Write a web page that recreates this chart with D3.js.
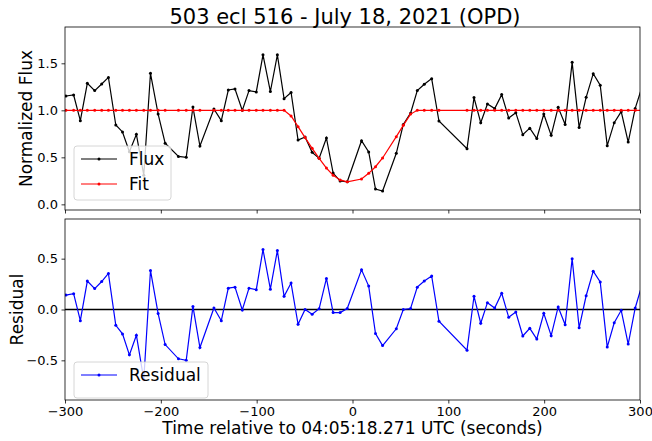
<!DOCTYPE html>
<html>
<head>
<meta charset="utf-8">
<script src="https://cdn.jsdelivr.net/npm/d3@7"></script>
<style>
  body { margin: 0; background: #fff; }
  text { font-family: "DejaVu Sans", sans-serif; }
</style>
</head>
<body>
<div id="chart"></div>
<script>

// time (s), flux, fit and residual
let time = [-299, -291, -284, -276.7, -269, -261.7, -254.7, -247, -240, -232.8,
  -225.5, -217.8, -210.8, -202.8, -195.5, -181.6, -173.5, -166.5, -159.2, -144.6,
  -136.9, -129.6, -122.6, -115, -108, -100.4, -93.4, -85.7, -78.4, -71.4,
  -64.1, -56.8, -49.5, -42.1, -34.8, -27.2, -20.2, -12.9, -5.5, 9.4,
  16.9, 24, 31.4, 45.7, 53, 60.6, 67.6, 74.9, 82.6, 90.2,
  119.5, 126.8, 133.8, 140.8, 148.4, 155.7, 163, 170.4, 177.7, 185,
  192.3, 199.6, 207.3, 214.6, 221.9, 229.2, 236.5, 243.8, 251.2, 258.5,
  265.8, 273.1, 280.4, 287.7, 295, 302]

let flux = [1.152, 1.163, 0.89, 1.287, 1.21, 1.28, 1.35, 0.844, 0.77, 0.56,
  0.745, 0.31, 1.394, 0.96, 0.65, 0.51, 0.50, 1.035, 0.62, 1.014,
  0.89, 1.216, 1.227, 1.0, 1.21, 1.195, 1.59, 1.2, 1.59, 1.124,
  1.19, 0.684, 0.716, 0.553, 0.49, 0.706, 0.333, 0.248, 0.24, 0.677,
  0.557, 0.163, 0.142, 0.543, 0.85, 0.97, 1.21, 1.277, 1.337, 0.886,
  0.592, 1.135, 0.869, 1.067, 1.018, 1.167, 0.918, 0.975, 0.74, 0.81,
  0.70, 0.96, 0.734, 1.032, 0.85, 1.51, 0.816, 1.138, 1.39, 1.266,
  0.624, 0.869, 0.986, 0.663, 1.02, 1.245]

let fit = [1, 1, 1, 1, 1, 1, 1, 1, 1, 1,
  1, 1, 1, 1, 1, 1, 1, 1, 1, 1,
  1, 1, 1, 1, 1, 1, 1, 1, 1, 1,
  0.94, 0.826, 0.71, 0.596, 0.49, 0.386, 0.31, 0.26, 0.24, 0.27,
  0.33, 0.40, 0.493, 0.72, 0.84, 0.96, 1, 1, 1, 1,
  1, 1, 1, 1, 1, 1, 1, 1, 1, 1,
  1, 1, 1, 1, 1, 1, 1, 1, 1, 1,
  1, 1, 1, 1, 1, 1]

let residual = [0.142, 0.156, -0.11, 0.28, 0.206, 0.275, 0.355, -0.155, -0.24, -0.446,
  -0.253, -0.69, 0.384, -0.04, -0.345, -0.485, -0.5, 0.03, -0.374, 0.015,
  -0.11, 0.21, 0.22, -0.005, 0.21, 0.195, 0.59, 0.2, 0.58, 0.13,
  0.26, -0.145, 0.0, -0.047, 0.008, 0.306, -0.03, -0.03, 0.01, 0.39,
  0.23, -0.237, -0.355, -0.19, 0.0, 0.01, 0.22, 0.28, 0.33, -0.115,
  -0.40, 0.13, -0.135, 0.067, 0.015, 0.16, -0.077, -0.025, -0.26, -0.185,
  -0.29, -0.037, -0.257, 0.025, -0.15, 0.50, -0.18, 0.135, 0.377, 0.27,
  -0.37, -0.13, -0.008, -0.34, 0.015, 0.24]

let xTicks = [-300, -200, -100, 0, 100, 200, 300]
let fluxTicks = [0.0, 0.5, 1.0, 1.5]
let residTicks = [-0.5, 0.0, 0.5]

let W = 652, H = 441
let left = 65, right = 640
let top1 = 27, bot1 = 210
let top2 = 219, bot2 = 400

let svg = d3.select("#chart")
  .append("svg")
  .attr("width", W)
  .attr("height", H)

let x = d3.scaleLinear()
  .domain([-300, 300])
  .range([left, right])

let y1 = d3.scaleLinear()
  .domain([-0.06, 1.886])
  .range([bot1, top1])

let y2 = d3.scaleLinear()
  .domain([-0.89, 0.89])
  .range([bot2, top2])

let fmtTick = d => d3.format(".1f")(d).replace("-", "\u2212")
let fmtX = d => String(d).replace("-", "\u2212")

// clip regions
let defs = svg.append("defs")
defs.append("clipPath").attr("id", "clip1")
  .append("rect").attr("x", left).attr("y", top1)
  .attr("width", right - left).attr("height", bot1 - top1)
defs.append("clipPath").attr("id", "clip2")
  .append("rect").attr("x", left).attr("y", top2)
  .attr("width", right - left).attr("height", bot2 - top2)

function styleAxis(g) {
  g.select(".domain").remove()
  g.selectAll(".tick line").attr("stroke", "#000").attr("stroke-width", 0.8)
  g.selectAll(".tick text").attr("font-size", 13).attr("fill", "#000")
    .attr("font-family", "DejaVu Sans")
}

// ---- top panel ----
svg.append("g")
  .attr("transform", "translate(0," + bot1 + ")")
  .call(d3.axisBottom(x).tickValues(xTicks).tickSize(3.5).tickFormat(""))
  .call(styleAxis)

svg.append("g")
  .attr("transform", "translate(" + left + ",0)")
  .call(d3.axisLeft(y1).tickValues(fluxTicks).tickSize(3.5).tickPadding(3.5).tickFormat(fmtTick))
  .call(styleAxis)

let p1 = svg.append("g").attr("clip-path", "url(#clip1)")

let fluxData = time.map((t, i) => ({ t: t, v: flux[i] }))
let fitData = time.map((t, i) => ({ t: t, v: fit[i] }))
let residData = time.map((t, i) => ({ t: t, v: residual[i] }))

p1.append("path")
  .datum(fluxData)
  .attr("d", d3.line().x(d => x(d.t)).y(d => y1(d.v)))
  .attr("stroke", "#000")
  .style("fill", "none")
  .style("stroke-width", 1.2)

p1.selectAll(".fluxdot")
  .data(fluxData)
  .enter().append("circle")
  .attr("cx", d => x(d.t))
  .attr("cy", d => y1(d.v))
  .attr("r", 1.5)
  .style("fill", "#000")

p1.append("path")
  .datum(fitData)
  .attr("d", d3.line().x(d => x(d.t)).y(d => y1(d.v)))
  .attr("stroke", "#ff0000")
  .style("fill", "none")
  .style("stroke-width", 1.2)

p1.selectAll(".fitdot")
  .data(fitData)
  .enter().append("circle")
  .attr("cx", d => x(d.t))
  .attr("cy", d => y1(d.v))
  .attr("r", 1.5)
  .style("fill", "#ff0000")

svg.append("rect")
  .attr("x", left).attr("y", top1)
  .attr("width", right - left).attr("height", bot1 - top1)
  .attr("stroke", "#000").attr("stroke-width", 0.8)
  .style("fill", "none")

// ---- bottom panel ----
svg.append("g")
  .attr("transform", "translate(0," + bot2 + ")")
  .call(d3.axisBottom(x).tickValues(xTicks).tickSize(3.5).tickPadding(3.5).tickFormat(fmtX))
  .call(styleAxis)

svg.append("g")
  .attr("transform", "translate(" + left + ",0)")
  .call(d3.axisLeft(y2).tickValues(residTicks).tickSize(3.5).tickPadding(3.5).tickFormat(fmtTick))
  .call(styleAxis)

let p2 = svg.append("g").attr("clip-path", "url(#clip2)")

p2.append("line")
  .attr("x1", left).attr("x2", right)
  .attr("y1", y2(0)).attr("y2", y2(0))
  .attr("stroke", "#000")
  .style("stroke-width", 1.4)

p2.append("path")
  .datum(residData)
  .attr("d", d3.line().x(d => x(d.t)).y(d => y2(d.v)))
  .attr("stroke", "#0000ff")
  .style("fill", "none")
  .style("stroke-width", 1.2)

p2.selectAll(".resdot")
  .data(residData)
  .enter().append("circle")
  .attr("cx", d => x(d.t))
  .attr("cy", d => y2(d.v))
  .attr("r", 1.5)
  .style("fill", "#0000ff")

svg.append("rect")
  .attr("x", left).attr("y", top2)
  .attr("width", right - left).attr("height", bot2 - top2)
  .attr("stroke", "#000").attr("stroke-width", 0.8)
  .style("fill", "none")

// ---- legends ----
function legend(x0, y0, w, h, items) {
  let g = svg.append("g")
  g.append("rect")
    .attr("x", x0).attr("y", y0).attr("width", w).attr("height", h)
    .attr("rx", 3)
    .style("fill", "#fff").style("fill-opacity", 0.8)
    .attr("stroke", "#ccc").attr("stroke-width", 0.8)
  items.forEach((it, i) => {
    let cy = y0 + 13 + i * 25
    g.append("line")
      .attr("x1", x0 + 7).attr("x2", x0 + 43)
      .attr("y1", cy).attr("y2", cy)
      .attr("stroke", it.color).style("stroke-width", 1.2)
    g.append("circle")
      .attr("cx", x0 + 25).attr("cy", cy).attr("r", 1.5)
      .style("fill", it.color)
    g.append("text")
      .attr("x", x0 + 55).attr("y", cy + 6)
      .attr("font-size", 17)
      .text(it.label)
  })
}

legend(74, 146, 97, 54, [{ label: "Flux", color: "#000" }, { label: "Fit", color: "#ff0000" }])
legend(74, 362, 134, 36, [{ label: "Residual", color: "#0000ff" }])

// ---- titles ----
svg.append("text")
  .attr("x", 345).attr("y", 24)
  .attr("text-anchor", "middle")
  .attr("font-size", 21)
  .text("503 ecl 516 - July 18, 2021 (OPD)")

svg.append("text")
  .attr("x", (left + right) / 2).attr("y", 434)
  .attr("text-anchor", "middle")
  .attr("font-size", 17)
  .text("Time relative to 04:05:18.271 UTC (seconds)")

svg.append("text")
  .attr("transform", "translate(32," + (top1 + bot1) / 2 + ") rotate(-90)")
  .attr("text-anchor", "middle")
  .attr("font-size", 17)
  .text("Normalized Flux")

svg.append("text")
  .attr("transform", "translate(23," + (top2 + bot2) / 2 + ") rotate(-90)")
  .attr("text-anchor", "middle")
  .attr("font-size", 17)
  .text("Residual")

</script>
</body>
</html>
